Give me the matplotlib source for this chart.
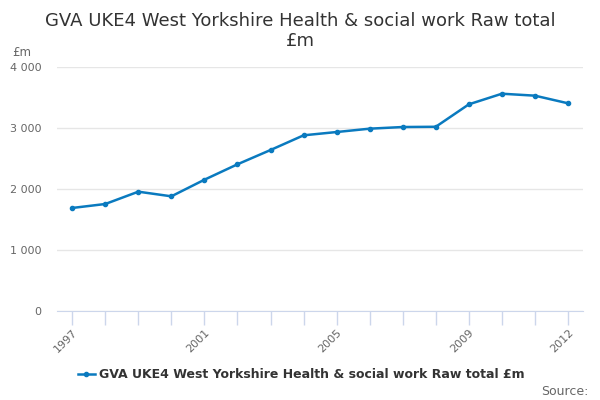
import matplotlib
matplotlib.use("Agg")
import matplotlib.pyplot as plt
from matplotlib.lines import Line2D

years = [str(y) for y in range(1997, 2013)]
values = [1689, 1754, 1956, 1880, 2152, 2405, 2639, 2880, 2934, 2989, 3016, 3020,
          3388, 3562, 3530, 3405]
shown_labels = {"1997", "2001", "2005", "2009", "2012"}
yticks = [0, 1000, 2000, 3000, 4000]
ytick_labels = ["0", "1 000", "2 000", "3 000", "4 000"]
title = "GVA UKE4 West Yorkshire Health & social work Raw total\n£m"
series_name = "GVA UKE4 West Yorkshire Health & social work Raw total £m"

color = "#0a7abf"
fig = plt.figure(figsize=(6, 4), dpi=100)
ax = fig.add_axes([0.095, 0.2225, 0.877, 0.61])

x = list(range(len(years)))
ax.plot(x, values, color=color, lw=1.8, marker="o", ms=3, zorder=3)

ax.set_xlim(-0.46, len(years) - 1 + 0.46)
ax.set_ylim(0, 4000)
ax.set_yticks(yticks)
ax.set_yticklabels(ytick_labels, fontsize=8, color="#666666")
ax.yaxis.grid(True, color="#e6e6e6", lw=1)
ax.set_axisbelow(True)
ax.tick_params(axis="y", length=0, pad=11)

ax.set_xticks(x)
ax.set_xticklabels([y if y in shown_labels else "" for y in years],
                   rotation=45, ha="right", rotation_mode="anchor",
                   fontsize=8, color="#666666")
ax.tick_params(axis="x", length=10, color="#ccd6eb", width=1, pad=2)

for s in ["top", "right", "left"]:
    ax.spines[s].set_visible(False)
ax.spines["bottom"].set_color("#ccd6eb")

fig.text(0.5, 0.922, title, ha="center", va="center", fontsize=13,
         color="#333333", linespacing=1.15)
fig.text(0.02, 0.87, "£m", fontsize=8.5, color="#666666", va="center")

# legend
fig.add_artist(Line2D([0.13, 0.158], [0.065, 0.065], color=color, lw=1.8,
                      transform=fig.transFigure))
fig.add_artist(Line2D([0.144], [0.065], color=color, marker="o", ms=3,
                      transform=fig.transFigure))
fig.text(0.165, 0.065, series_name, fontsize=9, fontweight="bold",
         color="#333333", va="center")
fig.text(0.98, 0.022, "Source:", fontsize=9, color="#666666", ha="right",
         va="center")

fig.savefig("out.png", dpi=100)
